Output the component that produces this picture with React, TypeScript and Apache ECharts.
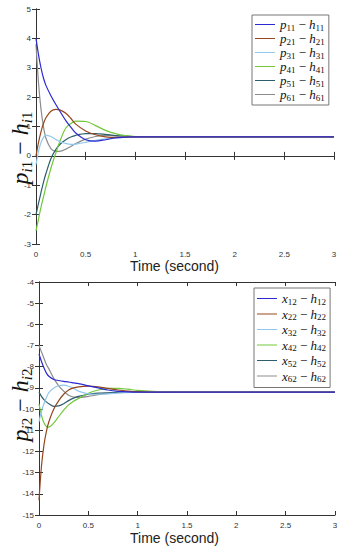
import React, { useEffect, useRef } from "react";
import * as echarts from "echarts";

const T = [0, 0.025, 0.05, 0.075, 0.1, 0.15, 0.2, 0.25, 0.3, 0.35, 0.4, 0.5, 0.6, 0.7, 0.8, 0.9, 1.0, 1.2, 1.5, 2, 2.5, 3];

const topVars = ["p", "p", "p", "p", "p", "p"];
const botVars = ["x", "x", "x", "x", "x", "x"];
const topSubs = ["11", "21", "31", "41", "51", "61"];
const botSubs = ["12", "22", "32", "42", "52", "62"];
const topNames = topSubs.map((s, i) => `${topVars[i]}${s} − h${s}`);
const botNames = botSubs.map((s, i) => `${botVars[i]}${s} − h${s}`);
const colors = ["#2a2ad0", "#96461e", "#8fc8ec", "#72c83a", "#2e5d6e", "#8c8c8c"];

const p1 = [4.0, 3.45, 3.0, 2.65, 2.4, 2.05, 1.75, 1.47, 1.2, 0.98, 0.78, 0.55, 0.5, 0.55, 0.61, 0.64, 0.65, 0.65, 0.65, 0.65, 0.65, 0.65];
const p2 = [0, 0.45, 0.82, 1.1, 1.3, 1.52, 1.58, 1.55, 1.45, 1.28, 1.08, 0.85, 0.72, 0.65, 0.63, 0.64, 0.65, 0.65, 0.65, 0.65, 0.65, 0.65];
const p3 = [-0.3, 0.15, 0.45, 0.63, 0.7, 0.66, 0.56, 0.47, 0.42, 0.39, 0.4, 0.46, 0.53, 0.58, 0.62, 0.64, 0.65, 0.65, 0.65, 0.65, 0.65, 0.65];
const p4 = [-2.55, -2.15, -1.75, -1.4, -1.05, -0.42, 0.1, 0.58, 0.95, 1.1, 1.18, 1.17, 1.03, 0.87, 0.76, 0.69, 0.66, 0.65, 0.65, 0.65, 0.65, 0.65];
const p5 = [-2.0, -1.62, -1.25, -0.9, -0.6, -0.1, 0.22, 0.42, 0.55, 0.64, 0.7, 0.76, 0.76, 0.73, 0.69, 0.67, 0.65, 0.65, 0.65, 0.65, 0.65, 0.65];
const p6 = [3.8, 2.5, 1.6, 1.0, 0.6, 0.25, 0.15, 0.16, 0.23, 0.32, 0.42, 0.57, 0.66, 0.7, 0.69, 0.67, 0.65, 0.65, 0.65, 0.65, 0.65, 0.65];

const x1 = [-7.4, -7.75, -8.05, -8.3, -8.45, -8.6, -8.65, -8.69, -8.72, -8.76, -8.8, -8.9, -9.0, -9.1, -9.16, -9.19, -9.2, -9.2, -9.2, -9.2, -9.2, -9.2];
const x2 = [-14.3, -12.7, -11.7, -11.05, -10.6, -10.0, -9.6, -9.3, -9.1, -9.0, -8.95, -8.92, -8.95, -9.02, -9.1, -9.15, -9.18, -9.2, -9.2, -9.2, -9.2, -9.2];
const x3 = [-10.6, -10.1, -9.75, -9.45, -9.22, -9.0, -8.9, -8.87, -8.92, -9.02, -9.15, -9.28, -9.3, -9.28, -9.24, -9.22, -9.2, -9.2, -9.2, -9.2, -9.2, -9.2];
const x4 = [-9.75, -10.3, -10.65, -10.82, -10.85, -10.65, -10.35, -10.05, -9.8, -9.63, -9.5, -9.25, -9.1, -9.02, -9.02, -9.06, -9.12, -9.18, -9.2, -9.2, -9.2, -9.2];
const x5 = [-9.2, -9.4, -9.55, -9.66, -9.75, -9.87, -9.85, -9.75, -9.6, -9.48, -9.4, -9.3, -9.25, -9.23, -9.21, -9.2, -9.2, -9.2, -9.2, -9.2, -9.2, -9.2];
const x6 = [-7.0, -7.3, -7.6, -7.9, -8.1, -8.55, -8.9, -9.15, -9.35, -9.43, -9.45, -9.4, -9.32, -9.26, -9.22, -9.21, -9.2, -9.2, -9.2, -9.2, -9.2, -9.2];

const topSeries = [p1, p2, p3, p4, p5, p6];
const botSeries = [x1, x2, x3, x4, x5, x6];

const xTicks = { min: 0, max: 3, interval: 0.5 };
const topY = { min: -3, max: 5, interval: 1 };
const botY = { min: -15, max: -4, interval: 1 };

const SERIF = "Liberation Serif";

export default function App() {
  const ref = useRef<HTMLDivElement>(null);
  useEffect(() => {
    const chart = echarts.init(ref.current!, undefined, { renderer: "svg" });
    const axisLine = { show: true, lineStyle: { color: "#333", width: 1 } };
    const tickIn = { show: true, inside: true, length: 4, lineStyle: { color: "#333" } };
    const lbl = { fontSize: 8, color: "#333", fontFamily: "Liberation Sans" };
    const mkX = (grid: number, pos: "bottom" | "top", show: boolean) => ({
      type: "value", gridIndex: grid, position: pos, ...xTicks,
      axisLine, axisTick: tickIn, splitLine: { show: false },
      axisLabel: show ? { ...lbl, margin: 6, formatter: (v: number) => String(v) } : { show: false },
    });
    const mkY = (grid: number, pos: "left" | "right", show: boolean, r: any) => ({
      type: "value", gridIndex: grid, position: pos, ...r,
      axisLine, axisTick: tickIn, splitLine: { show: false },
      axisLabel: show ? { ...lbl, margin: 5 } : { show: false },
    });
    const series: any[] = [];
    topSeries.forEach((s, i) => series.push({
      name: topNames[i], type: "line", xAxisIndex: 0, yAxisIndex: 0, symbol: "none", smooth: 0.3,
      lineStyle: { width: 1.2, color: colors[i] }, itemStyle: { color: colors[i] },
      data: T.map((t, k) => [t, s[k]]), z: 10 - i,
    }));
    botSeries.forEach((s, i) => series.push({
      name: botNames[i], type: "line", xAxisIndex: 2, yAxisIndex: 2, symbol: "none", smooth: 0.3,
      lineStyle: { width: 1.2, color: colors[i] }, itemStyle: { color: colors[i] },
      data: T.map((t, k) => [t, s[k]]), z: 10 - i,
    }));
    const legRich = {
      m: { fontFamily: SERIF, fontStyle: "italic", fontSize: 13, lineHeight: 15, color: "#111" },
      o: { fontFamily: SERIF, fontSize: 13, lineHeight: 15, color: "#111" },
      s: { fontFamily: SERIF, fontSize: 9, lineHeight: 9, verticalAlign: "bottom", color: "#111" },
    };
    const legFmt = (vars: string[], subs: string[], names: string[]) => (name: string) => {
      const i = names.indexOf(name);
      return `{m|${vars[i]}}{s|${subs[i]}}{o| − }{m|h}{s|${subs[i]}}`;
    };
    const legendBase = {
      orient: "vertical", backgroundColor: "#fff", borderColor: "#777", borderWidth: 1,
      itemWidth: 20, itemHeight: 8, icon: "path://M0,4L20,4L20,5L0,5Z",
      textStyle: { rich: legRich },
    };
    const yRich = {
      m: { fontFamily: SERIF, fontStyle: "italic", fontSize: 24, lineHeight: 28, fill: "#111" },
      o: { fontFamily: SERIF, fontSize: 24, lineHeight: 28, fill: "#111" },
      s: { fontFamily: SERIF, fontSize: 15, lineHeight: 15, verticalAlign: "bottom", fill: "#111" },
      si: { fontFamily: SERIF, fontStyle: "italic", fontSize: 15, lineHeight: 15, verticalAlign: "bottom", fill: "#111" },
    };
    chart.setOption({
      animation: false,
      backgroundColor: "#fff",
      grid: [
        { left: 36, right: 15, top: 9, height: 235 },
        { left: 39, right: 14, top: 282, height: 233 },
      ],
      xAxis: [mkX(0, "bottom", true), mkX(0, "top", false), mkX(1, "bottom", true), mkX(1, "top", false)],
      yAxis: [mkY(0, "left", true, topY), mkY(0, "right", false, topY), mkY(1, "left", true, botY), mkY(1, "right", false, botY)],
      legend: [
        { ...legendBase, data: topNames, left: 252, top: 15, itemGap: 0, padding: [3, 4, 3, 3], formatter: legFmt(topVars, topSubs, topNames) },
        { ...legendBase, data: botNames, left: 254, top: 288, itemGap: 1.5, padding: [4, 4, 4, 3], formatter: legFmt(botVars, botSubs, botNames) },
      ],
      graphic: [
        { type: "text", left: "center", top: 259, style: { text: "Time (second)", fontSize: 14, fontFamily: "Liberation Sans", fill: "#222" } },
        { type: "text", left: "center", top: 531, style: { text: "Time (second)", fontSize: 14, fontFamily: "Liberation Sans", fill: "#222" } },
        { type: "text", x: 20, y: 148, rotation: Math.PI / 2, style: { text: "{m|p}{si|i}{s|1}{o| − }{m|h}{si|i}{s|1}", rich: yRich, align: "center", verticalAlign: "middle" } },
        { type: "text", x: 20, y: 405, rotation: Math.PI / 2, style: { text: "{m|p}{si|i}{s|2}{o| − }{m|h}{si|i}{s|2}", rich: yRich, align: "center", verticalAlign: "middle" } },
      ],
      series,
    });
    return () => chart.dispose();
  }, []);
  return <div ref={ref} style={{ width: 349, height: 550, position: "absolute", left: 0, top: 0 }} />;
}
